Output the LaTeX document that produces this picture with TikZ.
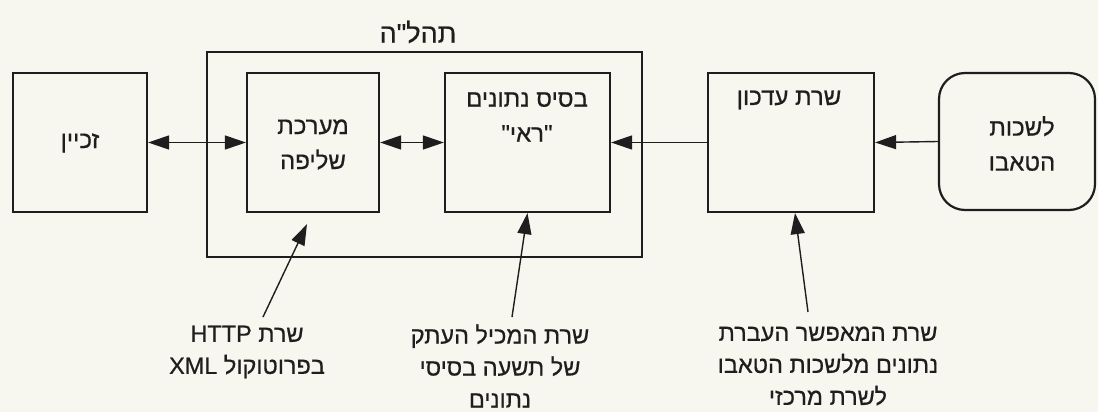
\documentclass[tikz,border=0pt]{standalone}
\usepackage{fontspec}
\setmainfont{Liberation Sans}
\newfontfamily\hebfont[Script=Hebrew,FakeBold=0.6]{Liberation Sans}
\TeXXeTstate=1
\usetikzlibrary{arrows.meta,calc}
\definecolor{paper}{RGB}{247,247,240}
\definecolor{ink}{RGB}{30,30,30}
\tikzset{
  boxst/.style={draw=ink, line width=2.2pt, inner sep=0pt},
  txt/.style={font=\hebfont\fontsize{24}{35}\selectfont, text=ink, align=center, inner sep=0pt},
  lbl/.style={font=\hebfont\fontsize{23.5}{32}\selectfont, text=ink, align=center, inner sep=0pt},
  conn/.style={draw=ink, line width=1.4pt},
  onetip/.style={-{Triangle[length=21pt,width=14pt]}},
  twotip/.style={{Triangle[length=21pt,width=14pt]}-{Triangle[length=21pt,width=14pt]}},
}
\begin{document}
\begin{tikzpicture}[x=1pt,y=-1pt]
\fill[paper] (0,0) rectangle (1098,412);
\useasboundingbox (0,0) rectangle (1098,412);
% boxes
\node[boxst, minimum width=435pt, minimum height=205pt] (outer) at (424.5,154.5) {};
\node[boxst, minimum width=134pt, minimum height=139pt] (zak) at (80,142.5) {};
\node[boxst, minimum width=132pt, minimum height=139pt] (shl) at (313,142.5) {};
\node[boxst, minimum width=165pt, minimum height=139pt] (db) at (527.5,142.5) {};
\node[boxst, minimum width=166pt, minimum height=139pt] (upd) at (791,142.5) {};
\node[boxst, rounded corners=26pt, minimum width=156pt, minimum height=137pt] (tab) at (1017,141.5) {};
% texts
\node[txt, font=\hebfont\fontsize{27}{35}\selectfont] (titletxt) at (418,32) {\beginR תהל"ה\endR};
\node[txt] (zaktxt) at (80,143) {\beginR זכיין\endR};
\node[txt] (shltxt) at (313,144.5) {\beginR מערכת\endR\\\beginR שליפה\endR};
\node[txt] (dbtxt) at (527,117) {\beginR בסיס נתונים\endR\\\beginR "ראי"\endR};
\node[txt] (updtxt) at (789,100) {\beginR שרת עדכון\endR};
\node[txt] (tabtxt) at (1022,143.5) {\beginR לשכות\endR\\\beginR הטאבו\endR};
% labels
\node[lbl] (lab1) at (247,352) {\beginR שרת \beginL HTTP\endL{}\endR\\\beginR בפרוטוקול \beginL XML\endL{}\endR};
\node[lbl] (lab2) at (500,366) {\beginR שרת המכיל העתק\endR\\\beginR של תשעה בסיסי\endR\\\beginR נתונים\endR};
\node[lbl] (lab3) at (828,366) {\beginR שרת המאפשר העברת\endR\\\beginR נתונים מלשכות הטאבו\endR\\\beginR לשרת מרכזי\endR};
% connectors
\draw[conn, twotip] (zak.east) -- (shl.west);
\draw[conn, twotip] (shl.east) -- (db.west);
\draw[conn, onetip] (upd.west) -- (db.east);
\draw[conn, onetip] (tab.west) -- (upd.east);
\coordinate (t1) at (263,317);
\coordinate (t2) at (512,317);
\coordinate (t3) at (808,312);
\draw[conn, onetip] (t1) -- ([xshift=-6pt,yshift=-11pt]shl.south);
\draw[conn, onetip] (t2) -- (db.south);
\draw[conn, onetip] (t3) -- ([xshift=4pt]upd.south);
\end{tikzpicture}
\end{document}
